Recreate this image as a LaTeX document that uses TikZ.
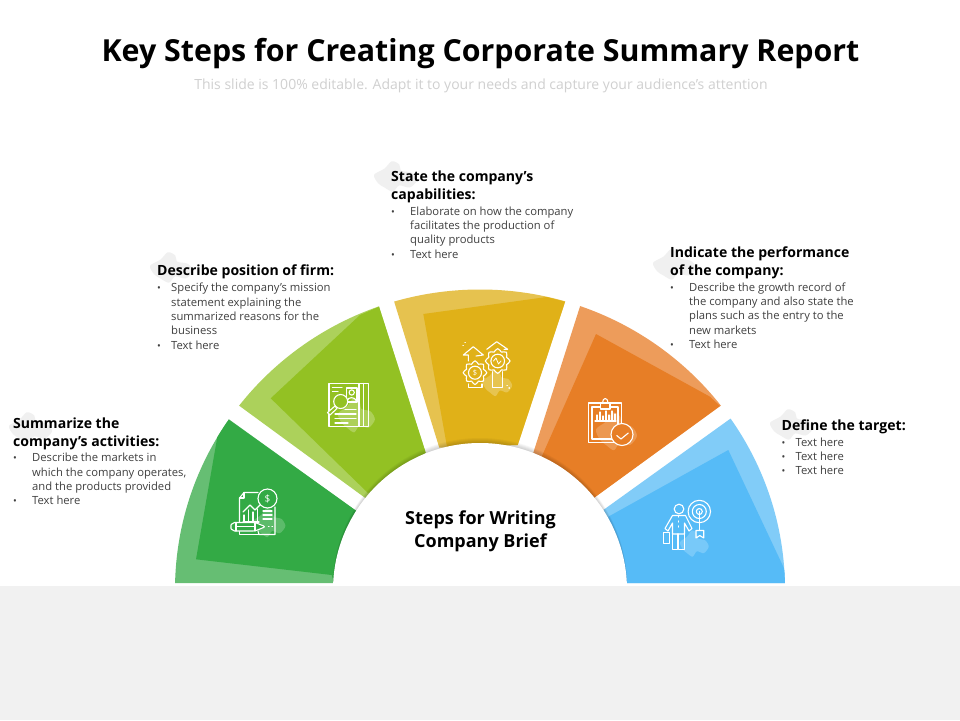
\documentclass[tikz,border=0pt]{standalone}
\usepackage{fontspec}
\setmainfont{Open Sans}
\definecolor{greenL}{HTML}{66BE73}\definecolor{greenD}{HTML}{33AA45}
\definecolor{limeL}{HTML}{ACD15B}\definecolor{limeD}{HTML}{93C123}
\definecolor{yelL}{HTML}{E6C24F}\definecolor{yelD}{HTML}{E0B118}
\definecolor{oraL}{HTML}{ED9C5B}\definecolor{oraD}{HTML}{E77E26}
\definecolor{bluL}{HTML}{81CCF8}\definecolor{bluD}{HTML}{56BBF7}
\definecolor{band}{HTML}{F1F1F1}\definecolor{bodyc}{HTML}{404040}
\definecolor{subc}{HTML}{D0D0D0}\definecolor{blobc}{HTML}{F0F0F0}
\newcommand{\bl}{{\fontsize{10}{10}\selectfont\textbullet}}
\newcommand{\blobat}[4]{\path[fill=#4,shift={(#1,#2)},scale=#3] plot[smooth cycle] coordinates {(-20,-2)(-10,-8)(-3,-15)(4,-12)(6,-6)(16,-4)(21,3)(14,10)(4,8)(-2,14)(-10,10)(-16,6)};}
\newcommand{\iconblob}[4]{\path[fill=#4,shift={(#1,#2)},xscale=#3,yscale=1.3*#3] plot[smooth cycle] coordinates {(-20,-2)(-10,-8)(-3,-15)(4,-12)(6,-6)(16,-4)(21,3)(14,10)(4,8)(-2,14)(-10,10)(-16,6)};}
\newcommand{\gearat}[4]{\draw[iconline,fill=#4,shift={(#1,#2)}] plot[smooth cycle,domain=0:348.75,samples=32] (\x:{#3+1.4*cos(8*\x)});\draw[iconline] (#1,#2) circle ({#3*0.62});}
\tikzset{
  iconline/.style={draw=white,line width=1.1pt,line join=round,line cap=round},
  headtxt/.style={anchor=base west,inner sep=0pt,font=\fontsize{14.05}{18}\selectfont\bfseries,text=black},
  bodytxt/.style={anchor=base west,inner sep=0pt,font=\fontsize{11.25}{14.4}\selectfont,text=bodyc},
  icontxt/.style={inner sep=0pt,text=white,font=\fontsize{10}{10}\selectfont}
}
\begin{document}
\begin{tikzpicture}[x=1pt,y=-1pt]
\useasboundingbox (0,0) rectangle (960,720);
\fill[white] (0,0) rectangle (960,720);
% sectors
\begin{scope}
\clip (480,590) ellipse [x radius=305,y radius=300.5];
\fill[greenL] (170,583) -- (150,450) -- (209,405) -- (356,510.7) -- (334,583) -- cycle;
\fill[greenD] (218,433) -- (228.3,419.3) -- (356,510.7) -- (334,583) -- (331.7,575) -- (196,559.3) -- cycle;
\fill[limeL] (215,388) -- (270,300) -- (368,272) -- (425.7,452.7) -- (365.7,498.3) -- cycle;
\fill[limeD] (270.7,398.3) -- (360,315) -- (379,306.7) -- (425.7,452.7) -- (368,493) -- cycle;
\fill[yelL] (385,272) -- (575,272) -- (517.7,445) -- (439.3,447.7) -- cycle;
\fill[yelD] (423.3,314) -- (546.7,297) -- (565,301.7) -- (517.7,445) -- (447,446.7) -- cycle;
\fill[oraL] (591,272) -- (690,300) -- (745,388) -- (593.3,498.3) -- (533.3,452.7) -- cycle;
\fill[oraD] (596,334) -- (710,396.7) -- (720,406) -- (593.3,498.3) -- (541.7,456.7) -- cycle;
\fill[bluL] (603.3,510) -- (755,401) -- (810,480) -- (800,583) -- (624,583) -- cycle;
\fill[bluD] (728.3,450) -- (783.3,566.7) -- (790,583) -- (624,583) -- (608.3,516.7) -- cycle;
\end{scope}
% soft edge of the centre disc, strongest at the top, fading to the sides
\begin{scope}
\clip (300,420) rectangle (660,583);
\foreach \d in {1,2,3,4,5}{\fill[black,opacity=.035] (480,590-\d) circle (147);}
\end{scope}
\fill[white] (480,590) circle (147);
\fill[band] (0,585.5) rectangle (960,720);
% blobs behind headings
\blobat{30}{428}{1.05}{blobc}
\blobat{171}{268}{1.05}{blobc}
\blobat{395}{177}{1.05}{blobc}
\blobat{674}{265}{1.05}{blobc}
\blobat{791}{425}{1.05}{blobc}
% blobs behind icons
\iconblob{269}{523}{.78}{white!20!greenD}
\iconblob{356}{416}{.9}{white!24!limeD}
\iconblob{497}{383}{.72}{white!24!yelD}
\iconblob{616}{432}{1.0}{white!20!oraD}
\iconblob{694}{544}{.7}{white!20!bluD}
% icon 1: report, coin, pencil
\draw[iconline] (258,492.5) -- (244,492.5) -- (239.5,498) -- (239.5,522);
\draw[iconline] (244,492.5) -- (244,498) -- (239.5,498);
\draw[iconline] (258,531) -- (259,534.5) -- (275,534.5) -- (275,507);
\draw[iconline] (239.5,531) -- (239.5,534.5) -- (259,534.5);
\draw[iconline] (243,512) -- (250,505) -- (255,510) -- (262,503);
\draw[iconline] (244,522) -- (244,515) (248.5,522) -- (248.5,510) (253,522) -- (253,512) (257.5,522) -- (257.5,509) (243,522) -- (259,522);
\draw[iconline] (263,511) -- (272,511) (263,515) -- (272,515) (263,519) -- (272,519);
\draw[iconline,fill=greenD] (267.5,498.5) circle (9.5);
\node[icontxt] (coin) at (267.5,498.5) {\$};
\draw[iconline,fill=greenD,rounded corners=2pt] (255,522.5) -- (232.5,522.5) -- (230,526.7) -- (232.5,531) -- (255,531) -- (265.5,526.7) -- cycle;
\draw[iconline] (236,522.5) -- (236,531) (255,522.5) -- (255,531) (236,526.7) -- (255,526.7);
\draw[iconline] (268.5,526.7) -- (269,526.7) (272,526.7) -- (272.5,526.7);
% icon 2: profile and magnifier
\draw[iconline] (329,383.5) rectangle (368.5,426.5);
\draw[iconline] (359,383.5) -- (359,426.5) (363.7,383.5) -- (363.7,426.5);
\draw[iconline] (346.5,388) rectangle (357,402);
\draw[iconline] (351.7,392.5) circle (2.6);
\draw[iconline] (347,401) .. controls (348,396.5) and (355,396.5) .. (356.5,401);
\draw[iconline] (332.5,387.5) -- (342,387.5) (332.5,391.5) -- (338,391.5);
\draw[iconline] (345,409.5) -- (356,409.5) (335,414) -- (356,414) (335,418.5) -- (356,418.5) (335,423) -- (348,423);
\draw[iconline,fill=limeD] (340.7,401.5) circle (7);
\draw[iconline,fill=limeD] (335,406) -- (337,408.5) -- (330,415) -- (327.5,412.5) -- cycle;
% icon 3: arrows and gears
\draw[iconline] (476,356) -- (483.3,355) -- (473.3,346.7) -- (463.3,355) -- (468.3,355) -- (468.3,361);
\draw[iconline] (490,347) -- (486.7,349.3) -- (496.7,341.7) -- (507.7,349.3) -- (504,349.3);
\draw[iconline] (492.3,371.7) -- (492.3,387.3) -- (502.3,387.3) -- (502.3,371.7);
\draw[iconline] (468.3,384) -- (468.3,387.3) -- (482,387.3) -- (482,384);
\gearat{475}{372.7}{10.5}{yelD}
\gearat{497.7}{361}{11}{yelD}
\node[icontxt,font=\fontsize{7.5}{7.5}\selectfont] (gears) at (475,372.7) {\$};
\draw[iconline,line width=.8pt] (493.5,361) -- (496,358) -- (498.5,364) -- (501,361);
\draw[iconline] (465,342.5) -- (465.4,342.5) (463,345.5) -- (463.4,345.5) (507,385.5) -- (507.4,385.5) (509,388) -- (509.4,388);
% icon 4: clipboard and check
\draw[iconline] (588.3,403) rectangle (621.7,442.7);
\draw[iconline] (592,407) rectangle (618,439);
\draw[iconline,fill=oraD] (600.5,403) rectangle (610,409);
\draw[iconline] (602.5,403) .. controls (602.5,397) and (608,397) .. (608,403);
\draw[iconline] (595,421) -- (616,421);
\draw[iconline] (597,420) -- (597,415) (600,420) -- (600,412) (603,420) -- (603,416) (606,420) -- (606,411) (609,420) -- (609,415) (612,420) -- (612,411) (615,420) -- (615,414);
\draw[iconline,fill=oraD] (622,434.5) circle (11);
\draw[iconline] (616.7,435.5) -- (621,439) -- (628.3,433);
% icon 5: person and target
\draw[iconline] (699.3,511.5) circle (11.2) (699.3,511.5) circle (7) (699.3,511.5) circle (3);
\draw[iconline] (699.8,511.5) -- (699.8,530);
\draw[iconline] (696,530.5) -- (703.7,530.5) -- (703.7,538) -- (699.8,535.5) -- (696,538) -- cycle;
\draw[iconline] (679,509) circle (4.8);
\draw[iconline] (672.5,515.5) -- (685.5,515.5) -- (692,528.5) -- (689,531) -- (684.5,523) -- (684.5,534) -- (672.5,534) -- (672.5,523) -- (668,531) -- (665,528.5) -- cycle;
\draw[iconline] (672.5,534) -- (672.5,549.5) -- (677.7,549.5) -- (677.7,534) (678.7,534) -- (678.7,549.5) -- (684.5,549.5) -- (684.5,534);
\draw[iconline] (678.5,516) -- (678.5,517) (678.5,521) -- (678.5,522) (678.5,526) -- (678.5,527);
\draw[iconline] (663.3,532.7) rectangle (669.3,543.5);
% title
\node[anchor=base,inner sep=0pt,font=\fontsize{30.35}{36}\selectfont\bfseries,text=black] (title) at (480.5,61) {Key Steps for Creating Corporate Summary Report};
\node[anchor=base,inner sep=0pt,font=\fontsize{14}{18}\selectfont,text=subc] (subtitle) at (481,89) {This slide is 100\% editable. Adapt it to your needs and capture your audience’s attention};
% centre
\node[align=center,inner sep=0pt,font=\fontsize{18}{23}\selectfont\bfseries,text=black] (centre) at (480.5,531.5) {Steps for Writing\\Company Brief};
% text blocks
\node[headtxt] (h1) at (13,428.7) {\begin{tabular}[t]{@{}l@{}}Summarize the\\company’s activities:\end{tabular}};
\node[bodytxt] (b1) at (13,461.7) {\begin{tabular}[t]{@{}p{19pt}@{}l@{}}\bl&Describe the markets in\\&which the company operates,\\&and the products provided\\\bl&Text here\end{tabular}};
\node[headtxt] (h2) at (157,275.7) {\begin{tabular}[t]{@{}l@{}}Describe position of firm:\end{tabular}};
\node[bodytxt] (b2) at (157,291.7) {\begin{tabular}[t]{@{}p{14pt}@{}l@{}}\bl&Specify the company’s mission\\&statement explaining the\\&summarized reasons for the\\&business\\\bl&Text here\end{tabular}};
\node[headtxt] (h3) at (391,181.7) {\begin{tabular}[t]{@{}l@{}}State the company’s\\capabilities:\end{tabular}};
\node[bodytxt] (b3) at (391,215) {\begin{tabular}[t]{@{}p{19pt}@{}l@{}}\bl&Elaborate on how the company\\&facilitates the production of\\&quality products\\\bl&Text here\end{tabular}};
\node[headtxt] (h4) at (670,257.7) {\begin{tabular}[t]{@{}l@{}}Indicate the performance\\of the company:\end{tabular}};
\node[bodytxt] (b4) at (670,291) {\begin{tabular}[t]{@{}p{19pt}@{}l@{}}\bl&Describe the growth record of\\&the company and also state the\\&plans such as the entry to the\\&new markets\\\bl&Text here\end{tabular}};
\node[headtxt] (h5) at (781.5,430.7) {\begin{tabular}[t]{@{}l@{}}Define the target:\end{tabular}};
\node[bodytxt] (b5) at (781.5,446) {\begin{tabular}[t]{@{}p{14pt}@{}l@{}}\bl&Text here\\\bl&Text here\\\bl&Text here\end{tabular}};
\end{tikzpicture}
\end{document}
